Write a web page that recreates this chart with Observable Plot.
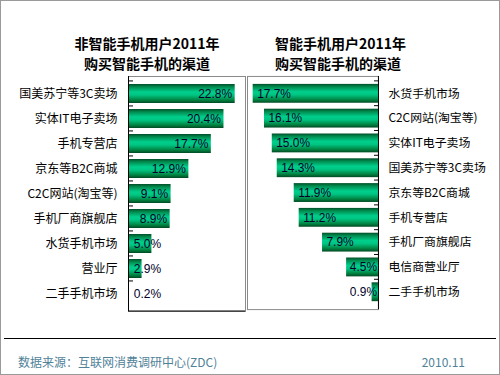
<!DOCTYPE html>
<html>
<head>
<meta charset="utf-8">
<script src="https://cdn.jsdelivr.net/npm/d3@7"></script>
<script src="https://cdn.jsdelivr.net/npm/@observablehq/plot@0.6"></script>
<style>
  html, body { margin: 0; padding: 0; background: #fff; }
  #wrap { position: relative; width: 500px; height: 375px; box-sizing: border-box; border: 1px solid #9a9a9a; overflow: hidden; font-family: "Noto Sans CJK SC", sans-serif; }
  .title { position: absolute; font-weight: bold; font-size: 14px; line-height: 20px; height: 20px; color: #000; white-space: nowrap; }
  .plot { position: absolute; }
  #rule { position: absolute; left: 3px; top: 337px; width: 492px; border-top: 1px solid #000; }
  .foot { position: absolute; top: 352px; font-size: 12px; color: #4f8299; white-space: nowrap; }
</style>
</head>
<body>
<div id="wrap">
  <div class="title" id="t1a" style="left:66px; top:32px; width:160px; text-align:center;"></div>
  <div class="title" id="t1b" style="left:66px; top:52px; width:160px; text-align:center;"></div>
  <div class="title" id="t2a" style="left:274px; top:32px;"></div>
  <div class="title" id="t2b" style="left:274px; top:52px;"></div>
  <div class="plot" id="p1" style="left:0px; top:70px;"></div>
  <div class="plot" id="p2" style="left:246px; top:70px;"></div>
  <div id="rule"></div>
  <div class="foot" id="src" style="left:17px;"></div>
  <div class="foot" id="date" style="right:34px;"></div>
</div>
<script>
// ---- data ----
const leftTitle = ["非智能手机用户2011年", "购买智能手机的渠道"];
const rightTitle = ["智能手机用户2011年", "购买智能手机的渠道"];
const leftCats = ["国美苏宁等3C卖场", "实体IT电子卖场", "手机专营店", "京东等B2C商城", "C2C网站(淘宝等)", "手机厂商旗舰店", "水货手机市场", "营业厅", "二手手机市场"];
const leftVals = [22.8, 20.4, 17.7, 12.9, 9.1, 8.9, 5.0, 2.9, 0.2];
const rightCats = ["水货手机市场", "C2C网站(淘宝等)", "实体IT电子卖场", "国美苏宁等3C卖场", "京东等B2C商城", "手机专营店", "手机厂商旗舰店", "电信商营业厅", "二手手机市场"];
const rightVals = [17.7, 16.1, 15.0, 14.3, 11.9, 11.2, 7.9, 4.5, 0.9];
const sourceText = "数据来源：互联网消费调研中心(ZDC)";
const dateText = "2010.11";

document.getElementById("t1a").textContent = leftTitle[0];
document.getElementById("t1b").textContent = leftTitle[1];
document.getElementById("t2a").textContent = rightTitle[0];
document.getElementById("t2b").textContent = rightTitle[1];
document.getElementById("src").textContent = sourceText;
document.getElementById("date").textContent = dateText;

const leftData = leftCats.map((c, i) => ({cat: c, v: leftVals[i]}));
const rightData = rightCats.map((c, i) => ({cat: c, v: rightVals[i]}));

const H = 245, MT = 5, MB = 5;
const step = (H - MT - MB) / leftCats.length;
const fmt = v => v.toFixed(1) + "%";

function addGradient(svg, id) {
  const ns = "http://www.w3.org/2000/svg";
  const defs = document.createElementNS(ns, "defs");
  const g = document.createElementNS(ns, "linearGradient");
  g.setAttribute("id", id);
  g.setAttribute("x1", "0"); g.setAttribute("y1", "0");
  g.setAttribute("x2", "0"); g.setAttribute("y2", "1");
  [[0, "#004f28"], [0.15, "#008a4e"], [0.42, "#00cf8c"], [0.58, "#00c582"], [0.85, "#00803f"], [1, "#004a24"]].forEach(([o, c]) => {
    const s = document.createElementNS(ns, "stop");
    s.setAttribute("offset", o);
    s.setAttribute("stop-color", c);
    g.appendChild(s);
  });
  defs.appendChild(g);
  svg.insertBefore(defs, svg.firstChild);
}

const baseStyle = {fontFamily: "'Noto Sans CJK SC', sans-serif", fontSize: "12px", color: "#000", background: "transparent", overflow: "visible"};

const left = Plot.plot({
  width: 250, height: H, marginTop: MT, marginBottom: MB, marginLeft: 127, marginRight: 6,
  style: baseStyle,
  x: {domain: [0, 25], axis: null},
  y: {domain: leftCats, padding: 0.25, label: null},
  marks: [
    Plot.frame({stroke: "#8a8a8a"}),
    Plot.barX(leftData, {x: "v", y: "cat", fill: "url(#gradL)"}),
    Plot.ruleX([0], {stroke: "#000"}),
    Plot.axisY({anchor: "left", label: null, tickSize: -5, tickFormat: () => "", dy: -step / 2, stroke: "#000"}),
    Plot.axisY({anchor: "left", label: null, tickSize: 0, tickPadding: 11, fontSize: 12, fill: "#000"}),
    Plot.text(leftData, {x: d => Math.max(d.v, 7.6), y: "cat", text: d => fmt(d.v), textAnchor: "end", dx: -3, fill: "#00002a", fontSize: 12, fontFamily: "'Liberation Sans', Arial, sans-serif"})
  ]
});
addGradient(left, "gradL");
{
  const ns = "http://www.w3.org/2000/svg";
  const l = document.createElementNS(ns, "line");
  l.setAttribute("x1", 127); l.setAttribute("x2", 244);
  l.setAttribute("y1", H - MB); l.setAttribute("y2", H - MB);
  l.setAttribute("stroke", "#000");
  left.appendChild(l);
}
document.getElementById("p1").appendChild(left);

const right = Plot.plot({
  width: 254, height: H, marginTop: MT, marginBottom: MB, marginLeft: 0, marginRight: 122,
  style: baseStyle,
  x: {domain: [0, 18.5], reverse: true, axis: null},
  y: {domain: rightCats, padding: 0.25, label: null},
  marks: [
    Plot.frame({stroke: "#8a8a8a"}),
    Plot.barX(rightData, {x: "v", y: "cat", fill: "url(#gradR)"}),
    Plot.ruleX([0], {stroke: "#000"}),
    Plot.axisY({anchor: "right", label: null, tickSize: -5, tickFormat: () => "", dy: -step / 2, stroke: "#000"}),
    Plot.axisY({anchor: "right", label: null, tickSize: 0, tickPadding: 10, fontSize: 12, fill: "#000"}),
    Plot.text(rightData, {x: d => Math.max(d.v, 4.6), y: "cat", text: d => fmt(d.v), textAnchor: "start", dx: 4, fill: "#00002a", fontSize: 12, fontFamily: "'Liberation Sans', Arial, sans-serif"})
  ]
});
addGradient(right, "gradR");
document.getElementById("p2").appendChild(right);
</script>
</body>
</html>
